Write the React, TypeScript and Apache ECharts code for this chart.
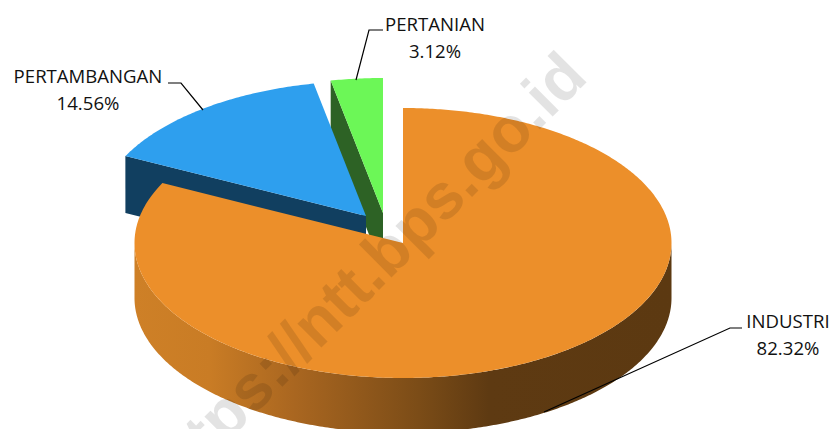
import React, { useEffect, useRef } from "react";
import * as echarts from "echarts";

const categories = ["INDUSTRI", "PERTAMBANGAN", "PERTANIAN"];
const shares = [82.32, 14.56, 3.12];
const percentLabels = ["82.32%", "14.56%", "3.12%"];
const watermark = "https://ntt.bps.go.id";

const topColors = ["#EC8F2A", "#2E9FEE", "#6CF757"];
const wallColors = ["#5C3911", "#113F60", "#2D6225"];
const sliceTips = [[403, 243], [366, 216], [383, 213]];
const sliceZ = [30, 20, 10];
const RX = 268.5;
const RY = 135;
const DEPTH = 55;
const SIDE_DEPTH = 57;
const labelPos = [[788, 334], [88, 89], [435, 37]];
const leaders = [
  [[544, 412], [730, 328], [742, 328]],
  [[203, 110], [181, 83], [168, 83]],
  [[356, 80], [369, 30], [383, 30]],
];

const total = shares.reduce((a, b) => a + b, 0);

function arcPoints(c: number[], a0: number, a1: number, dy = 0) {
  const n = Math.max(2, Math.ceil(Math.abs(a1 - a0) / 0.01));
  const pts: number[][] = [];
  for (let i = 0; i <= n; i++) {
    const t = a0 + ((a1 - a0) * i) / n;
    pts.push([c[0] + RX * Math.sin(t), c[1] - RY * Math.cos(t) + dy]);
  }
  return pts;
}

function renderSlice(params: any, api: any) {
  const i = params.dataIndex;
  const before = shares.slice(0, i).reduce((a, b) => a + b, 0);
  const a0 = (before / total) * Math.PI * 2;
  const a1 = ((before + api.value(0)) / total) * Math.PI * 2;
  const tip = sliceTips[i];
  const base = sliceZ[i];
  const children: any[] = [];
  const edge = arcPoints(tip, a0, a0)[0];

  if (i === 0) {
    const lo = Math.PI / 2;
    const hi = (Math.PI * 3) / 2;
    const topEdge = arcPoints(tip, lo, hi);
    const botEdge = arcPoints(tip, hi, lo, DEPTH);
    children.push({
      type: "polygon",
      z2: base,
      shape: { points: topEdge.concat(botEdge) },
      style: {
        fill: new echarts.graphic.LinearGradient(0, 0, 1, 0, [
          { offset: 0, color: "#CE8027" },
          { offset: 0.14, color: "#C97C25" },
          { offset: 0.3, color: "#A96620" },
          { offset: 0.53, color: "#7B4C17" },
          { offset: 0.66, color: "#5E3A12" },
          { offset: 1, color: wallColors[0] },
        ]),
      },
    });
  } else {
    children.push({
      type: "polygon",
      z2: base,
      shape: {
        points: [tip, edge, [edge[0], edge[1] + SIDE_DEPTH], [tip[0], tip[1] + SIDE_DEPTH]],
      },
      style: { fill: wallColors[i] },
    });
  }

  children.push({
    type: "polygon",
    z2: base + 1,
    shape: { points: [tip as number[]].concat(arcPoints(tip, a0, a1)) },
    style: { fill: topColors[i] },
  });

  children.push({
    type: "polyline",
    z2: 50,
    shape: { points: leaders[i] },
    style: { stroke: "#000", lineWidth: 1.2, fill: "none" },
  });

  children.push({
    type: "text",
    z2: 51,
    style: {
      x: labelPos[i][0],
      y: labelPos[i][1],
      text: categories[i] + "\n" + percentLabels[i],
      fill: "#111",
      font: '18.6px "Open Sans"',
      lineHeight: 27,
      align: "center",
      verticalAlign: "middle",
    },
  });

  return { type: "group", children };
}

export default function App() {
  const ref = useRef<HTMLDivElement>(null);
  useEffect(() => {
    const chart = echarts.init(ref.current!, undefined, { renderer: "svg" });
    chart.setOption({
      animation: false,
      backgroundColor: "#fff",
      series: [
        {
          type: "custom",
          coordinateSystem: "none",
          renderItem: renderSlice,
          data: shares.map((v, i) => ({ name: categories[i], value: [v] })),
          silent: true,
        },
      ],
      graphic: [
        {
          type: "text",
          z: 100,
          x: 363,
          y: 275,
          rotation: Math.PI / 4,
          style: {
            text: watermark,
            fill: "rgba(0,0,0,0.11)",
            font: 'bold 64px "Liberation Sans"',
            align: "center",
            verticalAlign: "middle",
          },
        },
      ],
    });
    return () => chart.dispose();
  }, []);
  return (
    <div
      ref={ref}
      style={{ position: "fixed", left: 0, top: 0, width: 829, height: 429 }}
    />
  );
}
